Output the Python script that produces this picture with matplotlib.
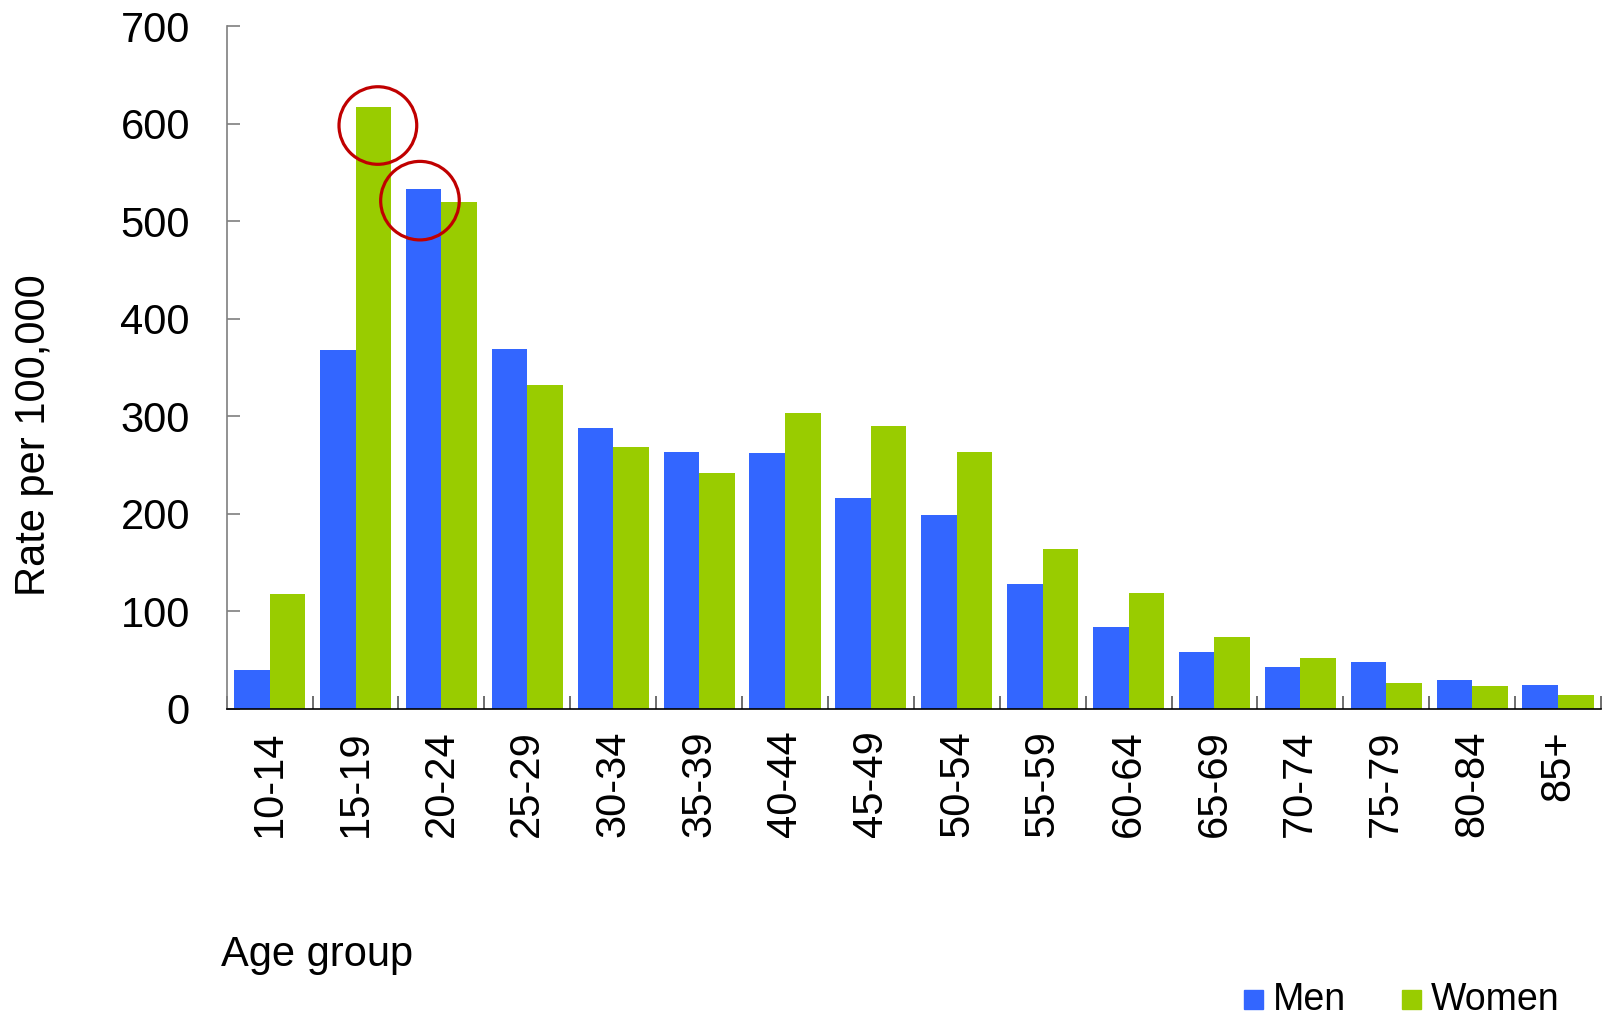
import matplotlib
matplotlib.use("Agg")
import matplotlib.pyplot as plt
from matplotlib.patches import Ellipse, Rectangle
import numpy as np

plt.rcParams['font.family'] = ['Liberation Sans', 'DejaVu Sans']

age_groups = ["10-14", "15-19", "20-24", "25-29", "30-34", "35-39", "40-44", "45-49",
              "50-54", "55-59", "60-64", "65-69", "70-74", "75-79", "80-84", "85+"]
men = [40, 368, 533, 369, 288, 263, 262, 216, 199, 128, 84, 58, 43, 48, 30, 25]
women = [118, 617, 520, 332, 269, 242, 303, 290, 263, 164, 119, 74, 52, 27, 24, 14]
series_names = ["Men", "Women"]
colors = ["#3366FF", "#99CC00"]
yticks = [0, 100, 200, 300, 400, 500, 600, 700]

W, H = 1602, 1015
fig = plt.figure(figsize=(W / 100, H / 100), dpi=100)
ax = fig.add_axes([226.7 / W, 1 - 709 / H, (1601 - 226.7) / W, (709 - 26) / H])

x = np.arange(len(age_groups))
bw = 0.414
ax.bar(x - bw / 2, men, width=bw, color=colors[0], linewidth=0)
ax.bar(x + bw / 2, women, width=bw, color=colors[1], linewidth=0)

ax.set_xlim(-0.5, len(age_groups) - 0.5)
ax.set_ylim(0, 700)

for s in ["top", "right"]:
    ax.spines[s].set_visible(False)
ax.spines["left"].set_color("#7f7f7f")
ax.spines["left"].set_linewidth(1.2)
ax.spines["bottom"].set_color("black")
ax.spines["bottom"].set_linewidth(1.2)

ax.set_yticks(yticks)
ax.set_yticklabels([str(v) for v in yticks], fontsize=30)
ax.tick_params(axis="y", direction="in", length=9.4, width=1.2, color="#7f7f7f", pad=26.5)

ax.set_xticks(x)
ax.set_xticklabels(age_groups, rotation=90, fontsize=30, va="top", ha="center")
ax.tick_params(axis="x", which="major", length=0, pad=15.5)
ax.set_xticks(np.arange(len(age_groups) + 1) - 0.5, minor=True)
ax.tick_params(axis="x", which="minor", direction="in", length=9.4, width=1.2, color="#555555")

# highlight circles
ax.add_patch(Ellipse((1.26, 598), width=0.905, height=79.5, fill=False,
                     edgecolor="#C00000", linewidth=2.3, clip_on=False, zorder=5))
ax.add_patch(Ellipse((1.75, 521), width=0.915, height=80.5, fill=False,
                     edgecolor="#C00000", linewidth=2.3, clip_on=False, zorder=5))

fig.text(34 / W, 1 - 435.5 / H, "Rate per 100,000", rotation=90, fontsize=30,
         ha="center", va="center")
fig.text(220.7 / W, 1 - 966 / H, "Age group", fontsize=30, ha="left", va="baseline")

# legend
leg_x = [1244.3, 1402.3]
for name, c, lx in zip(series_names, colors, leg_x):
    fig.patches.append(Rectangle((lx / W, 1 - 1008.7 / H), 18.5 / W, 18.5 / H,
                                 transform=fig.transFigure, color=c, figure=fig))
    fig.text((lx + 29) / W, 1 - 1010 / H, name, fontsize=27, ha="left", va="baseline")

fig.savefig("out.png", dpi=100)
